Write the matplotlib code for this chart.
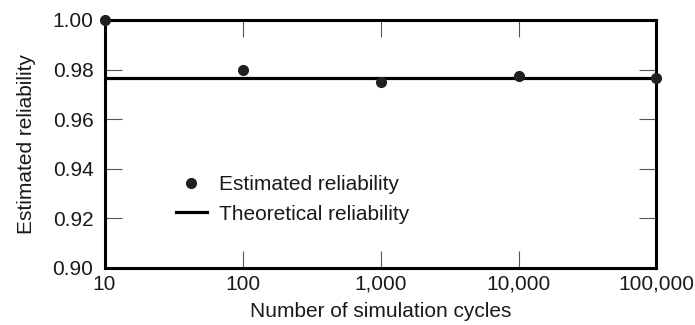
import matplotlib
matplotlib.use("Agg")
import matplotlib.pyplot as plt
from matplotlib.ticker import FixedLocator, NullLocator

plt.rcParams['font.family'] = ['Liberation Sans', 'DejaVu Sans']

cycles = [10, 100, 1000, 10000, 100000]
estimated = [1.000, 0.9799, 0.9750, 0.9776, 0.9766]
theoretical = 0.9766
xtick_labels = ["10", "100", "1,000", "10,000", "100,000"]
yticks = [0.90, 0.92, 0.94, 0.96, 0.98, 1.00]

FS = 15

fig = plt.figure(figsize=(6.95, 3.25), dpi=100)
ax = fig.add_axes([0.1504, 0.1754, 0.7942, 0.7631])

ax.set_xscale('log')
ax.set_xlim(10, 100000)
ax.set_ylim(0.90, 1.00)

ax.axhline(theoretical, color='black', lw=2.3, label='Theoretical reliability', zorder=2)
ax.plot(cycles, estimated, 'o', color='#231f20', ms=7, clip_on=False,
        label='Estimated reliability', zorder=3)

ax.xaxis.set_major_locator(FixedLocator(cycles))
ax.xaxis.set_minor_locator(NullLocator())
ax.set_xticklabels(xtick_labels)
ax.set_yticks(yticks)
ax.set_yticklabels([f"{v:.2f}" for v in yticks])

for s in ax.spines.values():
    s.set_linewidth(2.2)
    s.set_color('black')

ax.tick_params(axis='both', which='major', direction='in', length=12, width=0.8,
               color='#555555', labelsize=FS, top=True, right=True,
               labelcolor='#1a1a1a')
ax.tick_params(axis='y', pad=8)
ax.tick_params(axis='x', pad=5)

ax.set_xlabel('Number of simulation cycles', fontsize=FS, labelpad=6, color='#1a1a1a')
ax.set_ylabel('Estimated reliability', fontsize=FS, labelpad=12, color='#1a1a1a')

handles, labels = ax.get_legend_handles_labels()
leg = ax.legend(handles[::-1], labels[::-1], loc='upper left', bbox_to_anchor=(0.095, 0.45),
                frameon=False, fontsize=FS, handlelength=1.5, handletextpad=0.6,
                labelspacing=0.5)
for t in leg.get_texts():
    t.set_color('#1a1a1a')

fig.savefig('out.png', dpi=100)
